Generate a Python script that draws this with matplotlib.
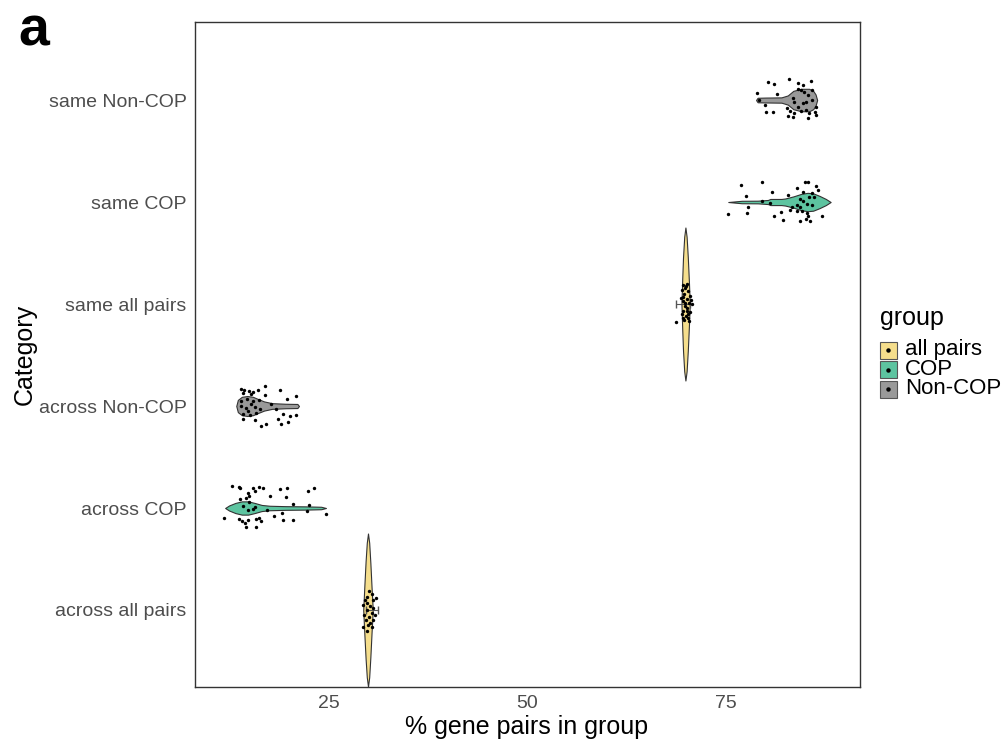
import matplotlib
matplotlib.use("Agg")
import matplotlib.pyplot as plt
from matplotlib.patches import Rectangle
import numpy as np

plt.rcParams['font.family'] = ['Liberation Sans', 'DejaVu Sans']

# Categories, bottom to top
categories = ["across all pairs", "across COP", "across Non-COP",
              "same all pairs", "same COP", "same Non-COP"]
cat_group = ["all pairs", "COP", "Non-COP", "all pairs", "COP", "Non-COP"]

group_names = ["all pairs", "COP", "Non-COP"]
group_colors = {"all pairs": "#F5DE8C", "COP": "#5DC4A0", "Non-COP": "#999999"}

# Violin outlines: value (%) and half width (density, category units)
v_across_all = [29.3, 29.45, 29.6, 29.75, 29.9, 30.05, 30.2, 30.35, 30.5]
d_across_all = [0.0, 0.25, 0.48, 0.66, 0.75, 0.66, 0.46, 0.22, 0.0]
v_across_cop = [11.9, 12.4, 13.2, 14.0, 14.8, 15.6, 16.5, 17.5, 19.5, 22.0, 24.0, 24.6]
d_across_cop = [0.0, 0.025, 0.05, 0.065, 0.065, 0.05, 0.03, 0.022, 0.018, 0.016, 0.012, 0.0]
v_across_non = [13.3, 13.5, 14.0, 14.7, 15.4, 16.0, 16.8, 17.8, 19.5, 21.0, 21.2]
d_across_non = [0.0, 0.06, 0.09, 0.098, 0.09, 0.07, 0.045, 0.028, 0.022, 0.02, 0.0]
v_same_all = [69.4, 69.5, 69.6, 69.75, 69.9, 70.05, 70.2, 70.35, 70.45]
d_same_all = [0.0, 0.25, 0.46, 0.66, 0.75, 0.66, 0.46, 0.2, 0.0]
v_same_cop = [75.3, 77.0, 79.0, 80.3, 80.6, 82.0, 82.5, 83.5, 84.5, 85.3, 86.0, 86.8, 87.6, 88.2]
d_same_cop = [0.0, 0.012, 0.013, 0.02, 0.03, 0.03, 0.035, 0.055, 0.08, 0.09, 0.085, 0.06, 0.03, 0.0]
v_same_non = [78.8, 79.0, 80.0, 82.0, 82.8, 83.5, 84.5, 85.5, 86.0, 86.3, 86.5]
d_same_non = [0.0, 0.022, 0.024, 0.026, 0.045, 0.09, 0.11, 0.11, 0.09, 0.055, 0.0]

# Jittered points: value (%) and vertical jitter (category units)
x_across_all = [30.08, 30.38, 29.83, 29.53, 30.5, 29.32, 30.16, 30.58, 29.75, 30.38, 29.45,
                30.08, 29.66, 30.58, 29.95, 29.32, 30.38, 30.8, 30.9, 29.83, 29.75, 30.2]
j_across_all = [0.19, 0.16, 0.13, 0.10, 0.10, 0.05, 0.04, 0.02, 0.0, -0.03, -0.05,
                -0.07, -0.10, -0.10, -0.15, -0.17, -0.17, -0.05, 0.12, 0.07, -0.21, -0.13]
x_across_cop = [12.78, 13.63, 13.79, 15.39, 16.15, 16.73, 14.76, 14.96, 14.55, 15.72, 17.61,
                18.83, 19.67, 19.58, 22.32, 23.15, 13.79, 14.13, 14.76, 15.39, 15.72, 14.96,
                20.5, 22.44, 17.15, 19.08, 22.19, 11.81, 13.7, 14.04, 14.46, 14.76, 15.81,
                16.22, 16.44, 18.11, 19.17, 20.5, 15.81, 14.55, 24.62]
j_across_cop = [0.22, 0.21, 0.20, 0.20, 0.21, 0.20, 0.15, 0.12, 0.10, 0.17, 0.12,
                0.19, 0.20, 0.11, 0.17, 0.20, 0.09, 0.02, -0.02, -0.01, 0.01, 0.06,
                0.04, 0.03, -0.02, -0.05, -0.03, -0.10, -0.11, -0.13, -0.15, -0.12, -0.11,
                -0.10, -0.13, -0.08, -0.12, -0.12, -0.19, -0.19, -0.06]
x_across_non = [13.95, 14.29, 14.17, 14.89, 15.21, 15.43, 16.06, 16.9, 16.9, 18.79, 19.75,
                20.88, 13.88, 14.71, 15.43, 16.15, 13.95, 14.58, 15.21, 15.72, 14.8, 16.27,
                14.17, 15.01, 15.84, 18.36, 19.2, 20.05, 20.88, 18.58, 19.84, 14.17, 15.64,
                16.47, 17.1, 18.99, 17.73]
j_across_non = [0.17, 0.16, 0.13, 0.15, 0.12, 0.14, 0.16, 0.20, 0.11, 0.16, 0.07,
                0.10, 0.05, 0.07, 0.05, 0.06, 0.0, -0.02, 0.02, -0.01, -0.05, -0.03,
                -0.08, -0.09, -0.07, -0.03, -0.08, -0.10, -0.09, -0.13, -0.16, -0.13, -0.14,
                -0.20, -0.18, -0.18, 0.02]
x_same_all = [69.63, 69.96, 69.42, 70.25, 69.71, 70.47, 70.05, 69.55, 70.38, 70.68, 69.84,
              70.13, 69.63, 70.47, 69.42, 69.96, 70.25, 69.71, 70.38, 70.05, 69.3, 70.6,
              69.8, 70.1, 69.6, 70.2, 69.9, 69.55, 68.7]
j_same_all = [0.19, 0.18, 0.14, 0.13, 0.10, 0.08, 0.05, 0.03, 0.01, 0.0, -0.02,
              -0.04, -0.07, -0.08, -0.10, -0.12, -0.14, -0.16, -0.17, 0.20, 0.06, 0.04,
              0.16, -0.07, 0.07, -0.10, 0.01, -0.14, -0.18]
x_same_cop = [76.85, 79.5, 77.5, 80.8, 82.85, 84.0, 85.0, 85.3, 86.3, 86.6, 85.8,
              84.7, 85.5, 86.1, 84.3, 84.7, 85.2, 85.8, 84.3, 83.3, 82.0, 81.0,
              82.2, 83.1, 83.9, 84.6, 85.2, 84.4, 85.1, 85.6, 85.4, 87.05, 75.3,
              77.6, 77.8, 79.6, 80.5, 83.9]
j_same_cop = [0.17, 0.20, 0.06, 0.10, 0.07, 0.14, 0.20, 0.20, 0.16, 0.12, 0.09,
              0.10, 0.05, 0.05, 0.03, 0.01, -0.02, -0.03, -0.05, -0.05, -0.10, -0.14,
              -0.18, -0.08, -0.09, -0.09, -0.11, -0.19, -0.17, -0.19, -0.14, -0.14, -0.12,
              -0.11, -0.05, 0.01, -0.01, -0.03]
x_same_non = [80.3, 81.1, 83.0, 84.1, 84.7, 85.7, 78.9, 81.5, 79.2, 79.9, 80.0,
              80.9, 82.7, 83.1, 83.6, 84.5, 85.1, 85.5, 86.2, 86.4, 83.4, 84.5,
              84.9, 84.1, 85.4, 85.8, 84.7, 84.1, 85.9, 82.8, 83.4, 85.3, 86.3,
              83.6, 85.1]
j_same_non = [0.18, 0.16, 0.21, 0.17, 0.15, 0.19, 0.07, 0.06, 0.0, -0.05, -0.12,
              -0.12, -0.08, -0.11, -0.13, -0.11, -0.10, -0.13, -0.12, -0.07, 0.02, 0.10,
              0.08, 0.11, 0.05, 0.0, -0.03, -0.07, 0.10, -0.16, -0.17, -0.18, -0.15,
              -0.02, -0.02]

# Small summary bars on the all pairs groups (centre, low, high)
summ_pos = [1, 4]
summ_mid = [30.1, 69.9]
summ_lo = [29.6, 68.75]
summ_hi = [31.15, 70.5]

violin_v = [v_across_all, v_across_cop, v_across_non, v_same_all, v_same_cop, v_same_non]
violin_d = [d_across_all, d_across_cop, d_across_non, d_same_all, d_same_cop, d_same_non]
pts_x = [x_across_all, x_across_cop, x_across_non, x_same_all, x_same_cop, x_same_non]
pts_j = [j_across_all, j_across_cop, j_across_non, j_same_all, j_same_cop, j_same_non]

W, H = 1003, 741
fig = plt.figure(figsize=(W / 100, H / 100), dpi=100)
ax = fig.add_axes([195/W, 54/H, 665/W, 665/H])

for i in range(len(categories)):
    pos = i + 1
    v = np.array(violin_v[i])
    d = np.array(violin_d[i])
    col = group_colors[cat_group[i]]
    # violin body
    ax.fill_between(v, pos - d, pos + d, facecolor=col, edgecolor="#333333", linewidth=0.8, zorder=2)
    # jittered points
    ax.scatter(pts_x[i], pos + np.array(pts_j[i]), s=6, color="black", linewidths=0, zorder=4)

# summary bars
for k in range(len(summ_pos)):
    ax.errorbar(summ_mid[k], summ_pos[k],
                xerr=[[summ_mid[k] - summ_lo[k]], [summ_hi[k] - summ_mid[k]]],
                fmt="none", ecolor="#555555", elinewidth=0.8, capsize=3, zorder=3)

ax.set_xlim(8.1, 91.9)
ax.set_ylim(0.245, 6.765)
ax.set_xticks([25, 50, 75])
ax.set_yticks(range(1, len(categories) + 1))
ax.set_yticklabels(categories)
ax.tick_params(length=0, labelsize=14, labelcolor="#4D4D4D", pad=6)
for sp in ax.spines.values():
    sp.set_color("#333333")
    sp.set_linewidth(1.0)

ax.set_xlabel("% gene pairs in group", fontsize=18, va="center")
ax.set_ylabel("Category", fontsize=18, va="center")
ax.xaxis.set_label_coords((527 - 195) / 665, -(727 - 687) / 665)
ax.yaxis.set_label_coords(-(195 - 25) / 665, (687 - 354) / 665)

# Legend drawn by hand (ggplot style keys: filled square with a dot)
fig.text(880 / W, 1 - 318 / H, "group", fontsize=18, va="center", ha="left")
key_y = 350
for g in group_names:
    fig.add_artist(Rectangle((880 / W, 1 - (key_y + 8.5) / H), 17 / W, 17 / H,
                             transform=fig.transFigure, facecolor=group_colors[g],
                             edgecolor="#555555", linewidth=0.8))
    fig.add_artist(plt.Line2D([888.5 / W], [1 - key_y / H], transform=fig.transFigure,
                              marker="o", markersize=2.2, color="black", linestyle=""))
    fig.text(905 / W, 1 - key_y / H, g, fontsize=16, va="center", ha="left")
    key_y += 19.5

fig.text(18/W, 1 - 45/H, "a", fontsize=40, fontweight="bold")

fig.savefig("out.png", dpi=100)
